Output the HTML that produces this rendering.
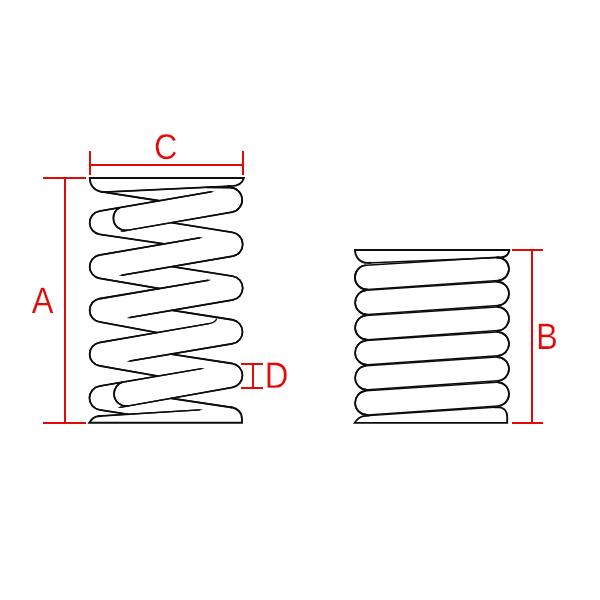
<!DOCTYPE html>
<html lang="en">
<head>
<meta charset="utf-8">
<title>Spring dimensions</title>
<style>
html,body{margin:0;padding:0;background:#fff;}
body{width:600px;height:600px;overflow:hidden;}
svg{display:block;}
</style>
</head>
<body>
<svg width="600" height="600" viewBox="0 0 600 600">
<rect width="600" height="600" fill="#fff"/>
<g fill="none" stroke="#0d0d0b" stroke-width="1.35" stroke-linecap="butt" stroke-linejoin="round">
<path d="M103.6,192.14 L231,186.1"/>
<path d="M100.5,191.6 L159.26,200.76"/>
<path d="M211.32,191.79 L99.45,211.07 A11.8,11.8 0 0 0 99.72,234.37 L164.21,243.92"/>
<path d="M200.02,237.79 L99.46,255.02 A11.8,11.8 0 0 0 99.47,278.28 L159.64,288.53"/>
<path d="M208.32,280.28 L99.48,298.72 A11.8,11.8 0 0 0 99.31,321.96 L157.14,332.59"/>
<path d="M216.6,318.6 C216,321.5 213.5,322.9 209,323.67 L99.45,342.52 A11.8,11.8 0 0 0 99.42,365.77 L158.19,376.06"/>
<path d="M201.62,368.59 L99.42,386.17 A12,12 0 0 0 99.63,409.86 L128.5,414.3"/>
<path d="M207,187.39 L229.86,187.5 A12.4,12.4 0 0 1 231.92,212.12 L122.68,231.09"/>
<path d="M171.5,222.61 L232.51,232.35 A12.1,12.1 0 0 1 232.64,256.23 L121.68,275.21"/>
<path d="M172.3,266.55 L232.5,276.1 A12.1,12.1 0 0 1 232.64,299.98 L129.98,317.51"/>
<path d="M172.3,310.28 L232.29,319.75 A12.15,12.15 0 0 1 232.42,343.73 L129.98,361.02"/>
<path d="M171,354.09 L232.23,363.49 A12.1,12.1 0 0 1 232.51,387.36 L120.18,407.29"/>
<path d="M119.56,207.6 A12.2,12.2 0 0 0 113.4,218.21 A12.2,12.2 0 0 0 127.69,230.22"/>
<path d="M122.53,382.2 A12.2,12.2 0 0 0 114,393.83 A12.2,12.2 0 0 0 128.33,405.84"/>
<path d="M199.8,409.81 L98,416.2"/>
<path d="M232.3,407.5 L171,398.28"/>
</g>
<g fill="none" stroke="#0d0d0b" stroke-width="1.8">
<path d="M100.5,191.6 L159.26,200.76"/>
<path d="M99.45,211.07 A11.8,11.8 0 0 0 99.72,234.37"/>
<path d="M99.72,234.37 L164.21,243.92"/>
<path d="M99.46,255.02 A11.8,11.8 0 0 0 99.47,278.28"/>
<path d="M99.47,278.28 L159.64,288.53"/>
<path d="M99.48,298.72 A11.8,11.8 0 0 0 99.31,321.96"/>
<path d="M99.31,321.96 L157.14,332.59"/>
<path d="M99.45,342.52 A11.8,11.8 0 0 0 99.42,365.77"/>
<path d="M99.42,365.77 L158.19,376.06"/>
<path d="M99.42,386.17 A12,12 0 0 0 99.63,409.86"/>
<path d="M99.63,409.86 L128.5,414.3"/>
<path d="M207,187.39 L229.86,187.5"/>
<path d="M229.86,187.5 A12.4,12.4 0 0 1 231.92,212.12"/>
<path d="M171.5,222.61 L232.51,232.35"/>
<path d="M232.51,232.35 A12.1,12.1 0 0 1 232.64,256.23"/>
<path d="M172.3,266.55 L232.5,276.1"/>
<path d="M232.5,276.1 A12.1,12.1 0 0 1 232.64,299.98"/>
<path d="M172.3,310.28 L232.29,319.75"/>
<path d="M232.29,319.75 A12.15,12.15 0 0 1 232.42,343.73"/>
<path d="M171,354.09 L232.23,363.49"/>
<path d="M232.23,363.49 A12.1,12.1 0 0 1 232.51,387.36"/>
<path d="M119.56,207.6 A12.2,12.2 0 0 0 113.4,218.21 A12.2,12.2 0 0 0 127.69,230.22"/>
<path d="M122.53,382.2 A12.2,12.2 0 0 0 114,393.83 A12.2,12.2 0 0 0 128.33,405.84"/>
<path d="M232.3,407.5 L171,398.28"/>
<path d="M366.32,265.22 A12.15,12.15 0 0 0 367.88,289.47 M498.19,280.57 A11.65,11.65 0 0 0 496.7,257.32"/>
<path d="M366.25,290.33 A12.15,12.15 0 0 0 367.89,314.57 M498.12,305.52 A11.9,11.9 0 0 0 496.52,281.78"/>
<path d="M366.25,315.43 A12.15,12.15 0 0 0 367.89,339.67 M498.12,330.62 A11.9,11.9 0 0 0 496.52,306.88"/>
<path d="M366.25,340.53 A12.15,12.15 0 0 0 367.89,364.77 M498.12,355.72 A11.9,11.9 0 0 0 496.52,331.98"/>
<path d="M366.25,365.63 A12.15,12.15 0 0 0 367.89,389.87 M498.12,380.82 A11.9,11.9 0 0 0 496.52,357.08"/>
<path d="M366.25,390.73 A12.15,12.15 0 0 0 367.89,414.97 M498.12,405.92 A11.9,11.9 0 0 0 496.52,382.18"/>
</g>
<g fill="none" stroke="#0d0d0b" stroke-width="1.9" stroke-linejoin="miter" stroke-miterlimit="8">
<path d="M103.6,192.14 L100.5,191.6 C94.5,190.5 89.8,185.5 89.8,177.95 H243.9 C242.3,183.5 238,186.1 231,186.1 L227,186.29"/>
<path d="M102,415.95 L98,416.2 C94,416.6 91,419.8 89.2,422.8 H242 V419 C242,412 237,408.4 232.3,407.5 L228.5,406.9"/>
</g>
<g fill="#0d0d0b" stroke="none">
<path d="M231.16,185.22 L103.56,191.37 L103.64,192.91 L231.24,186.96 Z"/>
<path d="M211.14,192.5 L214.02,191.53 L213.95,191.13 L210.91,191.17 Z"/>
<path d="M99.4,211.99 L211.44,192.45 L211.21,191.12 L99.1,210.22 Z"/>
<path d="M199.84,238.5 L202.72,237.53 L202.65,237.13 L199.61,237.17 Z"/>
<path d="M99.41,255.94 L200.14,238.45 L199.91,237.12 L99.11,254.17 Z"/>
<path d="M208.14,281 L211.02,280.03 L210.95,279.64 L207.92,279.67 Z"/>
<path d="M99.43,299.64 L208.44,280.95 L208.21,279.62 L99.13,297.86 Z"/>
<path d="M99.4,343.44 L209.11,324.34 L208.89,323.01 L99.1,341.67 Z"/>
<path d="M201.44,369.3 L204.32,368.33 L204.25,367.93 L201.21,367.97 Z"/>
<path d="M99.37,387.09 L201.74,369.25 L201.51,367.92 L99.07,385.32 Z"/>
<path d="M122.86,230.38 L120.48,231.27 L120.55,231.67 L123.09,231.71 Z"/>
<path d="M231.97,211.2 L122.57,230.43 L122.8,231.76 L232.27,212.97 Z"/>
<path d="M121.86,274.5 L118.98,275.47 L119.05,275.87 L122.09,275.83 Z"/>
<path d="M232.69,255.31 L121.56,274.55 L121.79,275.88 L232.99,257.08 Z"/>
<path d="M130.16,316.8 L127.28,317.77 L127.35,318.17 L130.39,318.13 Z"/>
<path d="M232.68,299.06 L129.86,316.85 L130.09,318.18 L232.99,300.83 Z"/>
<path d="M130.16,360.3 L127.28,361.27 L127.35,361.66 L130.38,361.63 Z"/>
<path d="M232.47,342.81 L129.86,360.35 L130.09,361.68 L232.77,344.58 Z"/>
<path d="M120.36,406.57 L117.98,407.48 L118.05,407.87 L120.59,407.9 Z"/>
<path d="M232.55,386.44 L120.06,406.63 L120.3,407.96 L232.87,388.22 Z"/>
<path d="M199.55,410.5 L202.51,409.84 L202.49,409.44 L199.46,409.15 Z"/>
<path d="M97.86,417.11 L199.85,410.48 L199.76,409.13 L97.74,415.31 Z"/>
</g>
<g fill="none" stroke="#0d0d0b" stroke-width="1.5" stroke-linejoin="round">
<path d="M366.32,265.22 A12.15,12.15 0 0 0 367.88,289.47 L498.19,280.57 A11.65,11.65 0 0 0 496.7,257.32 Z"/>
<path d="M366.25,290.33 A12.15,12.15 0 0 0 367.89,314.57 L498.12,305.52 A11.9,11.9 0 0 0 496.52,281.78 Z"/>
<path d="M366.25,315.43 A12.15,12.15 0 0 0 367.89,339.67 L498.12,330.62 A11.9,11.9 0 0 0 496.52,306.88 Z"/>
<path d="M366.25,340.53 A12.15,12.15 0 0 0 367.89,364.77 L498.12,355.72 A11.9,11.9 0 0 0 496.52,331.98 Z"/>
<path d="M366.25,365.63 A12.15,12.15 0 0 0 367.89,389.87 L498.12,380.82 A11.9,11.9 0 0 0 496.52,357.08 Z"/>
<path d="M366.25,390.73 A12.15,12.15 0 0 0 367.89,414.97 L498.12,405.92 A11.9,11.9 0 0 0 496.52,382.18 Z"/>
<path d="M367.4,262.9 L500.3,257.5"/>
<path d="M365.5,415.85 L498.3,407.1"/>
</g>
<g fill="none" stroke="#0d0d0b" stroke-width="1.9" stroke-linejoin="miter" stroke-miterlimit="6">
<path d="M371.4,262.74 L367.4,262.9 C360.5,262.9 355,257.5 355,250 H509.3 C508.6,254.6 505.5,257.4 500.3,257.5 L496.3,257.66"/>
<path d="M369.5,415.58 L365.5,415.85 C360.5,416 357.5,418.3 354.6,422.9 H507.2 V417 C507.2,411.3 503.8,407.3 498.3,407.1 L494.3,407.37"/>
</g>
<g fill="none" stroke="#e00a08" stroke-width="2">
<path d="M90,151 V175 M243,151 V175 M90,165 H243"/>
<path d="M43,178 H86 M43,423 H86 M65,178 V423"/>
<path d="M512,250 H543 M512,423 H543 M532,250 V423"/>
<path d="M241,364 H263 M241,388 H263 M253,364 V388"/>
</g>
<g opacity="0.999" text-rendering="geometricPrecision" fill="#e00a08" stroke="#fff" stroke-width="0.25" font-family="'Liberation Sans', Arial, Helvetica, sans-serif" font-size="36.9" text-anchor="middle">
<text transform="translate(165.67,159) scale(0.879,0.968)">C</text>
<text transform="translate(42.6,313) scale(0.883,1.0)">A</text>
<text transform="translate(547.05,349) scale(0.874,0.995)">B</text>
<text transform="translate(276.5,388) scale(0.889,1.01)">D</text>
</g>
</svg>
</body>
</html>
